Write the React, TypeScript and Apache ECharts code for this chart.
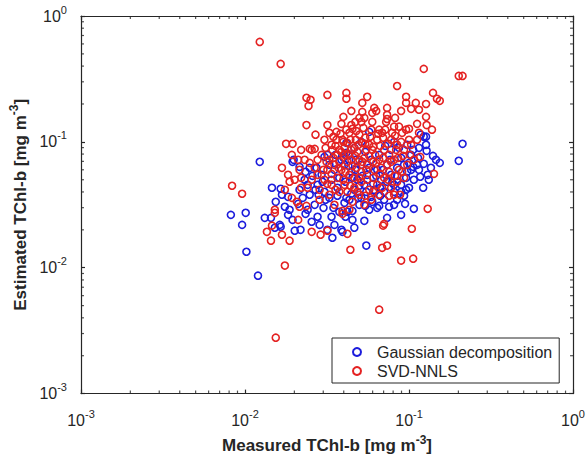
import React, { useEffect, useRef } from "react";
import * as echarts from "echarts";

// Measured vs estimated TChl-b [mg m^-3]
const gaussX = [
  0.0123, 0.0082, 0.0101, 0.0096, 0.0102, 0.012, 0.0146, 0.0165, 0.0168, 0.0154,
  0.0175, 0.0132, 0.0144, 0.0163, 0.0195, 0.0201, 0.0218, 0.0241, 0.0234, 0.0277,
  0.0301, 0.0337, 0.0341, 0.0387, 0.041, 0.0198, 0.0215, 0.0234, 0.0248, 0.0273,
  0.0305, 0.0318, 0.0415, 0.0415, 0.0183, 0.0248, 0.0281, 0.0327, 0.0415, 0.0376,
  0.0152, 0.0165, 0.0318, 0.0549, 0.0195, 0.0241, 0.0433, 0.212, 0.201, 0.127,
  0.128, 0.14, 0.146, 0.154, 0.123, 0.117, 0.13, 0.132, 0.106, 0.1,
  0.096, 0.0895, 0.0933, 0.107, 0.0895, 0.0735, 0.0658, 0.064, 0.0534, 0.0452,
  0.0452, 0.0421, 0.0512, 0.0589, 0.0393, 0.0789, 0.096, 0.115, 0.127, 0.0572,
  0.118, 0.123, 0.0351, 0.0376, 0.0404, 0.0445, 0.0484, 0.0512, 0.0556, 0.0589,
  0.064, 0.0676, 0.0735, 0.0778, 0.0846, 0.0895, 0.0975, 0.103, 0.112, 0.0464,
  0.0534, 0.0614, 0.0705, 0.0811, 0.0366, 0.0337, 0.0293, 0.0277, 0.0305, 0.0433,
  0.0498, 0.0572, 0.0705, 0.0811, 0.0398, 0.0474, 0.0541, 0.0658, 0.0778, 0.0869,
  0.0975, 0.107, 0.0351, 0.0285, 0.0255, 0.0464, 0.0215, 0.0187, 0.0225, 0.0266,
  0.0387, 0.0427, 0.0471, 0.0519, 0.0572, 0.0631, 0.0695, 0.0767, 0.0846, 0.0933,
  0.103, 0.1135, 0.041, 0.0452, 0.0498, 0.0549, 0.0605, 0.0667, 0.0735, 0.0811,
  0.0895, 0.1, 0.0366, 0.0404, 0.0445, 0.0491, 0.0541, 0.0597, 0.0667, 0.0756,
  0.0846, 0.0946, 0.0346, 0.031, 0.0269, 0.0297, 0.0327, 0.0356, 0.0464, 0.0512,
  0.0716, 0.0811, 0.106, 0.115, 0.136, 0.122, 0.0231, 0.0258, 0.0211, 0.0183,
];
const gaussY = [
  0.0694, 0.0263, 0.0273, 0.0219, 0.0134, 0.00865, 0.0432, 0.0424, 0.038, 0.0334,
  0.0305, 0.0249, 0.0249, 0.0219, 0.024, 0.0197, 0.02, 0.0289, 0.0268, 0.0254,
  0.0299, 0.0254, 0.0173, 0.02, 0.0254, 0.072, 0.0633, 0.0578, 0.0622, 0.0622,
  0.076, 0.0788, 0.0818, 0.0982, 0.0366, 0.038, 0.038, 0.0359, 0.0359, 0.0278,
  0.0208, 0.0212, 0.02, 0.015, 0.0694, 0.0456, 0.0788, 0.0965, 0.0707, 0.0947,
  0.0849, 0.0774, 0.072, 0.0681, 0.0669, 0.0528, 0.0547, 0.05, 0.0633, 0.0681,
  0.0416, 0.0401, 0.0373, 0.0294, 0.0263, 0.0249, 0.031, 0.0299, 0.0236, 0.024,
  0.0283, 0.0278, 0.0359, 0.0366, 0.0193, 0.0473, 0.0518, 0.0896, 0.11, 0.12,
  0.114, 0.11, 0.06, 0.0518, 0.0657, 0.0578, 0.05, 0.0657, 0.0547, 0.072,
  0.06, 0.05, 0.0657, 0.0547, 0.0622, 0.0746, 0.0578, 0.0788, 0.0657, 0.0416,
  0.0456, 0.0416, 0.0401, 0.0456, 0.0432, 0.05, 0.0547, 0.0456, 0.0401, 0.0347,
  0.0316, 0.0289, 0.0347, 0.0316, 0.0746, 0.072, 0.0833, 0.0788, 0.0864, 0.0896,
  0.0947, 0.05, 0.0219, 0.0219, 0.0232, 0.0208, 0.0416, 0.0289, 0.0359, 0.0316,
  0.072, 0.0645, 0.06, 0.0537, 0.0622, 0.0537, 0.06, 0.072, 0.0537, 0.0657,
  0.06, 0.0746, 0.0482, 0.0518, 0.0448, 0.0401, 0.0464, 0.0432, 0.0482, 0.0401,
  0.0456, 0.0432, 0.0373, 0.0328, 0.0387, 0.0359, 0.031, 0.0334, 0.0373, 0.0305,
  0.0347, 0.0322, 0.0299, 0.0347, 0.0416, 0.0482, 0.0657, 0.0788, 0.0896, 0.1,
  0.0929, 0.1, 0.0864, 0.06, 0.0622, 0.0432, 0.05, 0.0537, 0.0322, 0.0263,
];
const svdX = [
  0.0123, 0.0165, 0.123, 0.201, 0.212, 0.0846, 0.0318, 0.0237, 0.0251, 0.0244,
  0.0415, 0.0415, 0.0556, 0.0519, 0.096, 0.096, 0.11, 0.127, 0.14, 0.148,
  0.154, 0.0445, 0.0398, 0.0519, 0.0597, 0.0631, 0.0735, 0.0735, 0.0895, 0.103,
  0.115, 0.127, 0.128, 0.138, 0.0498, 0.0512, 0.0597, 0.0811, 0.0869, 0.1,
  0.0415, 0.0452, 0.0658, 0.0686, 0.115, 0.0237, 0.0318, 0.0269, 0.0327, 0.0361,
  0.0614, 0.0725, 0.0178, 0.0195, 0.0193, 0.0248, 0.0266, 0.0248, 0.0168, 0.0215,
  0.0361, 0.0433, 0.0498, 0.0589, 0.096, 0.0421, 0.0464, 0.0519, 0.0597, 0.00834,
  0.0096, 0.0404, 0.0136, 0.0146, 0.0144, 0.0168, 0.0187, 0.0211, 0.0255, 0.0289,
  0.0318, 0.0152, 0.0152, 0.0215, 0.0237, 0.0187, 0.0201, 0.0193, 0.0207, 0.0241,
  0.0175, 0.0421, 0.0439, 0.0686, 0.0735, 0.0895, 0.106, 0.104, 0.0695, 0.0658,
  0.0154, 0.142, 0.13, 0.0705, 0.0882, 0.0452, 0.0393, 0.0393, 0.117, 0.0305,
  0.0337, 0.0376, 0.0404, 0.0445, 0.0484, 0.0534, 0.0572, 0.064, 0.0705, 0.0778,
  0.0846, 0.0933, 0.103, 0.112, 0.0293, 0.0327, 0.0351, 0.0387, 0.0433, 0.0478,
  0.0512, 0.0556, 0.0614, 0.0658, 0.0735, 0.0811, 0.0869, 0.0975, 0.107, 0.0277,
  0.0305, 0.0337, 0.0366, 0.0404, 0.0464, 0.0512, 0.0572, 0.064, 0.0705, 0.0778,
  0.0846, 0.0933, 0.0318, 0.0341, 0.0421, 0.0474, 0.0541, 0.0622, 0.0756, 0.0376,
  0.0498, 0.0589, 0.0327, 0.0285, 0.0266, 0.0255, 0.0231, 0.022, 0.0376, 0.0695,
  0.1, 0.0811, 0.0658, 0.0534, 0.0433, 0.0351, 0.0285, 0.0393, 0.0445, 0.0498,
  0.0549, 0.0605, 0.0676, 0.0756, 0.0366, 0.0464, 0.0556, 0.0421, 0.0895, 0.0789,
  0.0346, 0.0382, 0.0477, 0.0527, 0.058, 0.0649, 0.0716, 0.0822, 0.0908, 0.031,
  0.0356, 0.0398, 0.0439, 0.0491, 0.0541, 0.0605, 0.0667, 0.0746, 0.0834, 0.092,
  0.0314, 0.0346, 0.0387, 0.0427, 0.0471, 0.0519, 0.0572, 0.0631, 0.0695, 0.0778,
  0.0858, 0.1014, 0.0301, 0.0337, 0.0372, 0.041, 0.0452, 0.0498, 0.0549, 0.0605,
  0.0667, 0.0746, 0.0822, 0.0908, 0.0318, 0.0356, 0.0398, 0.0439, 0.0484, 0.0541,
  0.0605, 0.0686, 0.0756, 0.0277, 0.0255, 0.022, 0.0211, 0.0183, 0.022, 0.0175,
  0.0445, 0.0534, 0.0735, 0.0822, 0.112, 0.0471, 0.0387,
];
const svdY = [
  0.622, 0.416, 0.38, 0.334, 0.334, 0.278, 0.236, 0.224, 0.216, 0.193,
  0.245, 0.22, 0.228, 0.204, 0.228, 0.204, 0.204, 0.2, 0.245, 0.22,
  0.212, 0.176, 0.158, 0.173, 0.17, 0.176, 0.164, 0.152, 0.176, 0.183,
  0.18, 0.158, 0.136, 0.125, 0.155, 0.144, 0.144, 0.132, 0.132, 0.127,
  0.125, 0.127, 0.125, 0.118, 0.118, 0.136, 0.136, 0.114, 0.118, 0.12,
  0.186, 0.144, 0.0965, 0.0965, 0.0788, 0.088, 0.088, 0.0681, 0.0622, 0.06,
  0.104, 0.118, 0.114, 0.125, 0.125, 0.0982, 0.0896, 0.0982, 0.0864, 0.0448,
  0.0387, 0.0896, 0.0193, 0.0216, 0.0164, 0.0183, 0.0164, 0.024, 0.0193, 0.0183,
  0.0197, 0.0289, 0.0273, 0.0305, 0.031, 0.0482, 0.05, 0.0359, 0.0334, 0.0432,
  0.0104, 0.0186, 0.0139, 0.0144, 0.015, 0.0114, 0.0118, 0.0204, 0.0216, 0.00464,
  0.00278, 0.0557, 0.0294, 0.0223, 0.038, 0.0334, 0.0283, 0.0268, 0.076, 0.104,
  0.0947, 0.0864, 0.0788, 0.072, 0.0833, 0.0746, 0.0947, 0.104, 0.0864, 0.104,
  0.0947, 0.0864, 0.0947, 0.104, 0.0788, 0.072, 0.0657, 0.06, 0.0547, 0.0622,
  0.0578, 0.0657, 0.06, 0.072, 0.0657, 0.072, 0.06, 0.0657, 0.072, 0.0547,
  0.05, 0.0456, 0.0518, 0.0456, 0.0432, 0.0482, 0.0416, 0.0456, 0.0518, 0.0432,
  0.0482, 0.0518, 0.06, 0.0864, 0.0694, 0.104, 0.108, 0.0788, 0.0788, 0.0401,
  0.038, 0.0347, 0.038, 0.0416, 0.0622, 0.05, 0.072, 0.0518, 0.0694, 0.108,
  0.104, 0.038, 0.038, 0.0316, 0.0289, 0.0316, 0.0347, 0.104, 0.0864, 0.072,
  0.0864, 0.0694, 0.0622, 0.0578, 0.0788, 0.0518, 0.05, 0.0401, 0.1, 0.118,
  0.11, 0.116, 0.122, 0.129, 0.11, 0.116, 0.125, 0.112, 0.118, 0.0896,
  0.0929, 0.1, 0.104, 0.0947, 0.0965, 0.0913, 0.0929, 0.0965, 0.0864, 0.0774,
  0.0694, 0.0746, 0.0833, 0.0803, 0.0774, 0.0694, 0.0774, 0.0681, 0.0746, 0.0694,
  0.0746, 0.0788, 0.06, 0.0557, 0.0622, 0.0578, 0.0645, 0.0518, 0.06, 0.0518,
  0.0557, 0.05, 0.0537, 0.0578, 0.0464, 0.0416, 0.05, 0.0448, 0.0401, 0.0373,
  0.0401, 0.0432, 0.0373, 0.072, 0.0864, 0.0864, 0.072, 0.0547, 0.0432, 0.0416,
  0.136, 0.155, 0.186, 0.155, 0.139, 0.144, 0.139,
];

const seriesNames = ["Gaussian decomposition", "SVD-NNLS"];
const decades = [0.001, 0.01, 0.1];
const minorMultipliers = [2, 3, 4, 5, 6, 7, 8, 9];
const AXIS_MIN = 0.001;
const AXIS_MAX = 1;

const BLUE = "#1c1cdc";
const RED = "#e42222";
const INK = "#262626";
const FONT = "'Liberation Sans', Arial, Helvetica, sans-serif";

export default function App() {
  const ref = useRef<HTMLDivElement>(null);
  useEffect(() => {
    if (!ref.current) return;
    const chart = echarts.init(ref.current, undefined, { renderer: "svg" });

    const minorVals: number[] = [];
    decades.forEach((d) => minorMultipliers.forEach((m) => minorVals.push(d * m)));

    const tickSeries = (data: number[][], size: number[], offset: number[]) => ({
      type: "scatter",
      silent: true,
      clip: false,
      symbol: "rect",
      symbolSize: size,
      symbolOffset: offset,
      itemStyle: { color: INK, borderWidth: 0 },
      emphasis: { disabled: true },
      data,
      z: 1,
    });

    const labelFmt = (v: number) => {
      const e = Math.round(Math.log10(v));
      return `{b|10}{s|${e}}`;
    };
    const labelRich = {
      b: { fontSize: 16, lineHeight: 24, color: INK, fontFamily: FONT },
      s: { fontSize: 11, lineHeight: 11, color: INK, fontFamily: FONT, verticalAlign: "top" },
    };
    const nameStyle = {
      rich: {
        t: { fontSize: 17, fontWeight: "bold", lineHeight: 24, color: INK, fontFamily: FONT },
        s: { fontSize: 12, fontWeight: "bold", lineHeight: 12, color: INK, fontFamily: FONT, verticalAlign: "top" },
      },
    };
    const baseAxis = {
      type: "log",
      logBase: 10,
      min: AXIS_MIN,
      max: AXIS_MAX,
      splitLine: { show: false },
      axisLine: { show: true, lineStyle: { color: INK, width: 1.2 } },
      axisTick: { show: true, inside: true, length: 4, lineStyle: { color: INK, width: 1.2 } },
    };

    const sym = (color: string) => ({
      type: "scatter",
      symbol: "circle",
      symbolSize: 7,
      itemStyle: { color: "rgba(0,0,0,0)", borderColor: color, borderWidth: 1.6, opacity: 1 },
      emphasis: { disabled: true },
      z: 2,
    });

    chart.setOption({
      animation: false,
      backgroundColor: "#ffffff",
      grid: { left: 80, top: 16, right: 14, bottom: 65, containLabel: false },
      xAxis: [
        {
          ...baseAxis,
          position: "bottom",
          axisLabel: { formatter: labelFmt, rich: labelRich, margin: 15 },
          name: "{t|Measured TChl-b [mg m}{s|-3}{t|]}",
          nameLocation: "middle",
          nameGap: 39,
          nameTextStyle: nameStyle,
        },
        { ...baseAxis, position: "top", axisLabel: { show: false } },
      ],
      yAxis: [
        {
          ...baseAxis,
          position: "left",
          axisLabel: { formatter: labelFmt, rich: labelRich, margin: 14 },
          name: "{t|Estimated TChl-b [mg m}{s|-3}{t|]}",
          nameLocation: "middle",
          nameGap: 38,
          nameTextStyle: nameStyle,
        },
        { ...baseAxis, position: "right", axisLabel: { show: false } },
      ],
      legend: {
        data: seriesNames,
        orient: "vertical",
        left: 332,
        top: 338,
        padding: [5, 7, 3, 20],
        itemGap: 1,
        itemWidth: 8,
        itemHeight: 8,
        borderColor: INK,
        borderWidth: 1,
        backgroundColor: "#ffffff",
        textStyle: { fontSize: 16, color: INK, fontFamily: FONT, padding: [0, 0, 0, 11], lineHeight: 18 },
        selectedMode: false,
      },
      series: [
        tickSeries(minorVals.map((v) => [v, AXIS_MIN]), [1.2, 3], [0, -1.5]),
        tickSeries(minorVals.map((v) => [v, AXIS_MAX]), [1.2, 3], [0, 1.5]),
        tickSeries(minorVals.map((v) => [AXIS_MIN, v]), [3, 1.2], [1.5, 0]),
        tickSeries(minorVals.map((v) => [AXIS_MAX, v]), [3, 1.2], [-1.5, 0]),
        {
          ...sym(BLUE),
          name: seriesNames[0],
          data: gaussX.map((x, i) => [x, gaussY[i]]),
        },
        {
          ...sym(RED),
          name: seriesNames[1],
          data: svdX.map((x, i) => [x, svdY[i]]),
        },
      ],
    });
    return () => chart.dispose();
  }, []);
  return (
    <div
      ref={ref}
      style={{ position: "absolute", left: 0, top: 0, width: 588, height: 459, background: "#fff" }}
    />
  );
}
